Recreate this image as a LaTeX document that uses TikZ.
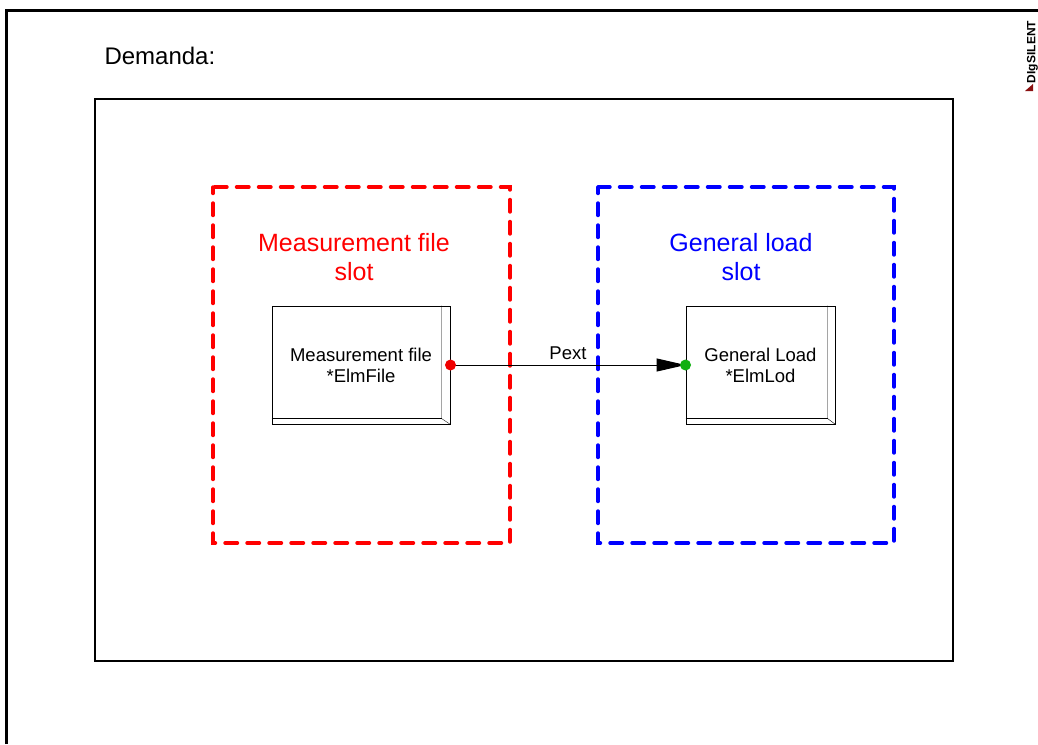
\documentclass[tikz,border=0pt]{standalone}
\usepackage{fontspec}
\setmainfont{Liberation Sans}
\usetikzlibrary{arrows.meta,positioning,calc}
\definecolor{slotred}{HTML}{FF0000}
\definecolor{slotblue}{HTML}{0000FF}
\definecolor{dotred}{HTML}{F00000}
\definecolor{dotgreen}{HTML}{10B010}
\definecolor{logored}{HTML}{8A1010}

\begin{document}
\begin{tikzpicture}[x=1pt,y=-1pt,
  slot/.style={draw, line width=3.4pt, line cap=round, dash pattern=on 12.5pt off 9.5pt, dash phase=6pt},
  slotlabel/.style={align=center, font=\fontsize{25}{29}\selectfont},
  elm/.style={draw, line width=1pt, inner sep=0pt, align=center, font=\fontsize{18.5}{21}\selectfont},
  port/.style={circle, fill, inner sep=0pt, minimum size=11pt}]
  \useasboundingbox (0,0) rectangle (1038,744);
  % frame and title
  \draw[line width=3pt] (6,744) -- (6,10) -- (1038,10);
  \node[anchor=base west, font=\fontsize{24}{28}\selectfont] (title) at (101,64) {Demanda:};
  \node[rotate=90, font=\bfseries\fontsize{12}{14}\selectfont] (logo) at (1032.5,52) {DIgSILENT};
  \fill[logored] (1025,91) -- (1033,84) -- (1033,91) -- cycle;
  \draw[line width=2pt] (95,99) rectangle (953,661);
  % slots
  \draw[slot, slotred] (213,187) rectangle (510,543);
  \draw[slot, slotblue] (598,187) rectangle (894,543);
  \node[slotlabel, text=slotred] (mfslot) at (354,257) {Measurement file\\slot};
  \node[slotlabel, text=slotblue] (glslot) at (741,257) {General load\\slot};
  % elements
  \node[elm, minimum width=178pt, minimum height=118pt] (mf) at (361,365) {Measurement file\\*ElmFile};
  \draw ([xshift=-9pt]mf.north east) -- ([xshift=-9pt,yshift=6pt]mf.south east) -- (mf.south east);
  \draw ([yshift=6pt]mf.south west) -- ([xshift=-9pt,yshift=6pt]mf.south east);
  \node[elm, minimum width=149pt, minimum height=118pt] (gl) at (760.5,365) {General Load\\*ElmLod};
  \draw ([xshift=-8pt]gl.north east) -- ([xshift=-8pt,yshift=6pt]gl.south east) -- (gl.south east);
  \draw ([yshift=6pt]gl.south west) -- ([xshift=-8pt,yshift=6pt]gl.south east);
  % signal
  \draw[line width=1pt, -{Triangle[length=29pt,width=13pt]}] (mf.east) -- (gl.west)
    node[midway, above=1pt, font=\fontsize{18.5}{21}\selectfont] (pext) {Pext};
  \node[port, dotred] (out) at (mf.east) {};
  \node[port, dotgreen] (in) at (gl.west) {};
\end{tikzpicture}
\end{document}
